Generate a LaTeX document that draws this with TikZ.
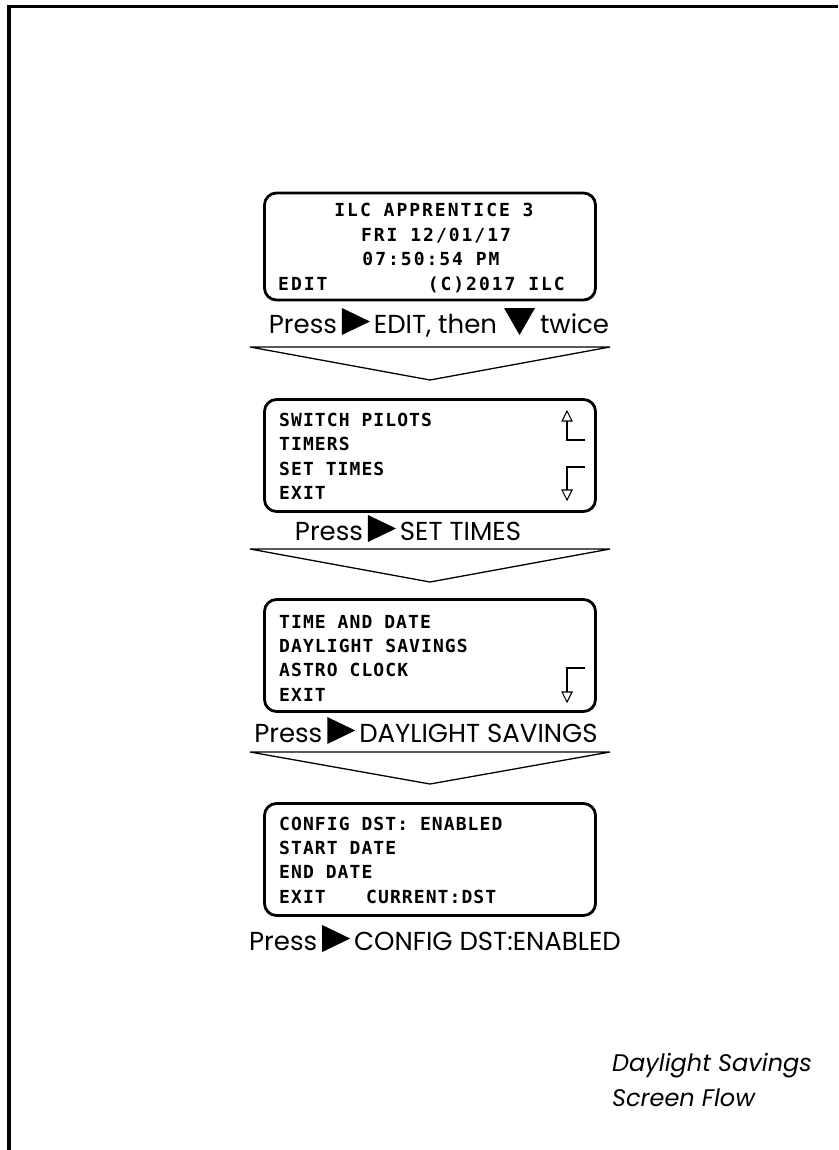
\documentclass[tikz,border=0pt]{standalone}
\usepackage{fontspec}
\setmainfont{Poppins}
\newfontfamily\lcdfont[LetterSpace=6]{DejaVu Sans Mono}
\newfontfamily\lcdfontA[LetterSpace=11]{DejaVu Sans Mono}
\newcommand\rtri{\tikz[baseline=0pt]\fill (0pt,-2pt)--(0pt,25pt)--(28pt,11.5pt)--cycle;}
\newcommand\dtri{\tikz[baseline=0pt]\fill (0pt,25pt)--(31pt,25pt)--(15.5pt,-2pt)--cycle;}
\tikzset{
  lcdbox/.style={draw, line width=2.8pt, rounded corners=12pt, minimum width=331pt, inner sep=0pt},
  lcdtxt/.style={font=\fontsize{18}{20}\selectfont\lcdfont\bfseries, inner sep=0pt, anchor=base west},
  lcdtxtA/.style={font=\fontsize{18}{20}\selectfont\lcdfontA\bfseries, inner sep=0pt, anchor=base},
  presstxt/.style={font=\fontsize{26}{30}\selectfont, inner sep=0pt, anchor=base},
  chev/.style={draw, line width=1.3pt, line join=miter},
  scrollarrow/.style={draw, line width=1.2pt},
  scrolltip/.style={draw, line width=1.1pt, fill=white},
  captxt/.style={font=\fontsize{24}{28}\selectfont\itshape, inner sep=0pt, anchor=base west}
}
\begin{document}
\begin{tikzpicture}[x=1pt,y=-1pt]
\useasboundingbox (0,0) rectangle (838,1150);
% frame
\draw[line width=3.2pt] (838,6.5) -- (9,6.5) -- (9,1150);

% ---- screen 1
\node[lcdbox, minimum height=107pt] (b1) at (430,246.5) {};
\node[lcdtxtA] (b1l1) at (434,216.5) {ILC APPRENTICE 3};
\node[lcdtxtA] (b1l2) at (436,241) {FRI 12/01/17};
\node[lcdtxtA] (b1l3) at (431,265.5) {07:50:54 PM};
\node[lcdtxtA, anchor=base west] (b1l4a) at (278,290) {EDIT};
\node[lcdtxtA, anchor=base east] (b1l4b) at (565,290) {(C)2017 ILC};
\node[presstxt] (p1) at (439,333) {Press\hspace{5pt}\rtri\hspace{4pt}EDIT, then \dtri\hspace{5pt}twice};

% chevron 1
\coordinate (c1l) at (250,347);
\coordinate (c1r) at (610,347);
\coordinate (c1a) at (430,380);
\draw[chev] (c1l) -- (c1r) -- (c1a) -- cycle;

% ---- screen 2
\node[lcdbox, minimum height=112pt] (b2) at (430,455.5) {};
\node[lcdtxt] (b2l1) at (279,426.5) {SWITCH PILOTS};
\node[lcdtxt] (b2l2) at (279,450.8) {TIMERS};
\node[lcdtxt] (b2l3) at (279,475.1) {SET TIMES};
\node[lcdtxt] (b2l4) at (279,499.4) {EXIT};
% scroll arrows
\coordinate (u2e) at (585,440);
\coordinate (u2c) at (567,440);
\coordinate (u2b) at (567,421);
\draw[scrollarrow] (u2e) -- (u2c) -- (u2b);
\draw[scrolltip] (562,421) -- (572,421) -- (567,411) -- cycle;
\coordinate (d2e) at (585,467);
\coordinate (d2c) at (567,467);
\coordinate (d2b) at (567,490);
\draw[scrollarrow] (d2e) -- (d2c) -- (d2b);
\draw[scrolltip] (562,490) -- (572,490) -- (567,500) -- cycle;
\node[presstxt] (p2) at (408,540) {Press\hspace{5pt}\rtri\hspace{4pt}SET TIMES};

% chevron 2
\coordinate (c2l) at (250,549);
\coordinate (c2r) at (610,549);
\coordinate (c2a) at (430,582);
\draw[chev] (c2l) -- (c2r) -- (c2a) -- cycle;

% ---- screen 3
\node[lcdbox, minimum height=112pt] (b3) at (430,655.5) {};
\node[lcdtxt] (b3l1) at (279,628) {TIME AND DATE};
\node[lcdtxt] (b3l2) at (279,652) {DAYLIGHT SAVINGS};
\node[lcdtxt] (b3l3) at (279,676.5) {ASTRO CLOCK};
\node[lcdtxt] (b3l4) at (279,701) {EXIT};
\coordinate (d3e) at (585,668);
\coordinate (d3c) at (567,668);
\coordinate (d3b) at (567,692);
\draw[scrollarrow] (d3e) -- (d3c) -- (d3b);
\draw[scrolltip] (562,692) -- (572,692) -- (567,702) -- cycle;
\node[presstxt] (p3) at (426,742) {Press\hspace{5pt}\rtri\hspace{4pt}DAYLIGHT SAVINGS};

% chevron 3
\coordinate (c3l) at (250,752);
\coordinate (c3r) at (610,752);
\coordinate (c3a) at (430,784);
\draw[chev] (c3l) -- (c3r) -- (c3a) -- cycle;

% ---- screen 4
\node[lcdbox, minimum height=112pt] (b4) at (430,859.5) {};
\node[lcdtxt] (b4l1) at (279,830) {CONFIG DST: ENABLED};
\node[lcdtxt] (b4l2) at (279,854) {START DATE};
\node[lcdtxt] (b4l3) at (279,878.5) {END DATE};
\node[lcdtxt] (b4l4a) at (279,903) {EXIT};
\node[lcdtxt] (b4l4b) at (366,903) {CURRENT:DST};
\node[presstxt] (p4) at (435,950) {Press\hspace{5pt}\rtri\hspace{4pt}CONFIG DST:ENABLED};

% caption
\node[captxt] (cap1) at (612,1071) {Daylight Savings};
\node[captxt] (cap2) at (612,1106) {Screen Flow};
\end{tikzpicture}
\end{document}
